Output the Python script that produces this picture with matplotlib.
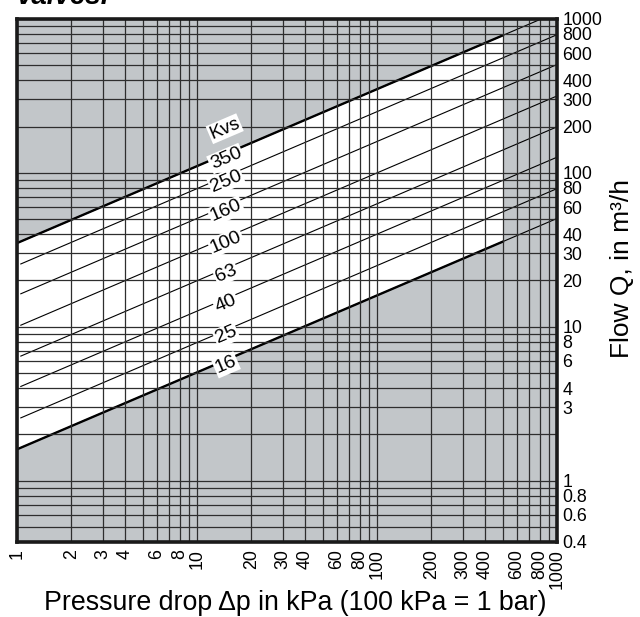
import numpy as np
import matplotlib
matplotlib.use("Agg")
import matplotlib.pyplot as plt
from matplotlib.ticker import FixedLocator, LogLocator, NullFormatter, FixedFormatter

plt.rcParams["font.family"] = ["Liberation Sans", "DejaVu Sans"]

# valve sizes (Kvs, m3/h at 1 bar)
kvs = [16, 25, 40, 63, 100, 160, 250, 350]
kvs_labels = ["16", "25", "40", "63", "100", "160", "250", "350"]

# axis ranges and tick labels
dp_range = [1, 1000]       # kPa
q_range = [0.4, 1000]      # m3/h
dp_white_max = 500         # end of the white working area
dp_label = 14.5            # where the Kvs numbers sit
x_ticks = [1, 2, 3, 4, 6, 8, 10, 20, 30, 40, 60, 80, 100, 200, 300, 400, 600, 800, 1000]
y_ticks = [0.4, 0.6, 0.8, 1, 3, 4, 6, 8, 10, 20, 30, 40, 60, 80, 100, 200, 300, 400, 600, 800, 1000]


def flow(k, dp):
    # Q = Kvs * sqrt(dp / 100 kPa)
    return k * np.sqrt(np.asarray(dp, dtype=float) / 100.0)


GRAY = "#c2c6c9"

fig = plt.figure(figsize=(6.4, 6.17), dpi=100)
ax = fig.add_axes([17 / 640, 1 - 542 / 617, 540 / 640, 523 / 617])
ax.set_xscale("log")
ax.set_yscale("log")
ax.set_xlim(dp_range)
ax.set_ylim(q_range)
ax.set_facecolor(GRAY)

# white working area between smallest and largest valve
xw = [dp_range[0], dp_white_max]
ax.fill_between(xw, flow(kvs[0], xw), flow(kvs[-1], xw), color="white", lw=0, zorder=0.5)

# grid
ax.xaxis.set_major_locator(FixedLocator(x_ticks))
ax.xaxis.set_major_formatter(FixedFormatter([f"{v:g}" for v in x_ticks]))
ax.xaxis.set_minor_locator(LogLocator(base=10, subs=np.arange(1, 10), numticks=30))
ax.xaxis.set_minor_formatter(NullFormatter())
ax.yaxis.set_major_locator(FixedLocator(y_ticks))
ax.yaxis.set_major_formatter(FixedFormatter([f"{v:g}" for v in y_ticks]))
ax.yaxis.set_minor_locator(LogLocator(base=10, subs=np.arange(1, 10), numticks=30))
ax.yaxis.set_minor_formatter(NullFormatter())
ax.grid(which="both", color="#2e2e2e", lw=0.9, zorder=1)
ax.set_axisbelow(False)

ax.yaxis.tick_right()
ax.tick_params(axis="both", which="both", length=0)
ax.tick_params(axis="y", pad=4, labelsize=12.8)
ax.tick_params(axis="x", pad=5, labelsize=12.8, labelrotation=90)
for s in ax.spines.values():
    s.set_linewidth(2.6)
    s.set_color("#1a1a1a")
    s.set_zorder(5)

# valve lines
xfull = [1.05, dp_range[1]]
for i, k in enumerate(kvs):
    ax.plot(xfull, flow(k, xfull), color="black", lw=0.8, zorder=2)
    if i in (0, len(kvs) - 1):
        ax.plot(xw, flow(k, xw), color="black", lw=1.7, zorder=2.1)

# angle of the lines on screen
p0 = ax.transData.transform((1, flow(100, 1)))
p1 = ax.transData.transform((100, flow(100, 100)))
ang = np.degrees(np.arctan2(p1[1] - p0[1], p1[0] - p0[0]))

box = dict(facecolor="white", edgecolor="none", pad=0.8)
for k, lab in zip(kvs, kvs_labels):
    ax.annotate(lab, xy=(dp_label, flow(k, dp_label)), xytext=(0, -3.5), textcoords="offset points",
                ha="center", va="center", rotation=ang, rotation_mode="anchor",
                fontsize=14, bbox=box, zorder=4)
ax.annotate("Kvs", xy=(dp_label, flow(kvs[-1], dp_label)), xytext=(-1, 18), textcoords="offset points",
            ha="center", va="center", rotation=ang, rotation_mode="anchor",
            fontsize=13.5, bbox=box, zorder=4)

fig.text(17 / 640, 1 - 4 / 617, "valves.", fontsize=20, fontweight="bold", style="italic",
         ha="left", va="baseline")
fig.text(295 / 640, 1 - 603 / 617, "Pressure drop \u0394p in kPa (100 kPa = 1 bar)",
         fontsize=19.3, ha="center", va="center")
fig.text(622 / 640, 1 - 268 / 617, "Flow Q, in m\u00b3/h", fontsize=19, rotation=90,
         ha="center", va="center")

fig.savefig("out.png", dpi=100)
